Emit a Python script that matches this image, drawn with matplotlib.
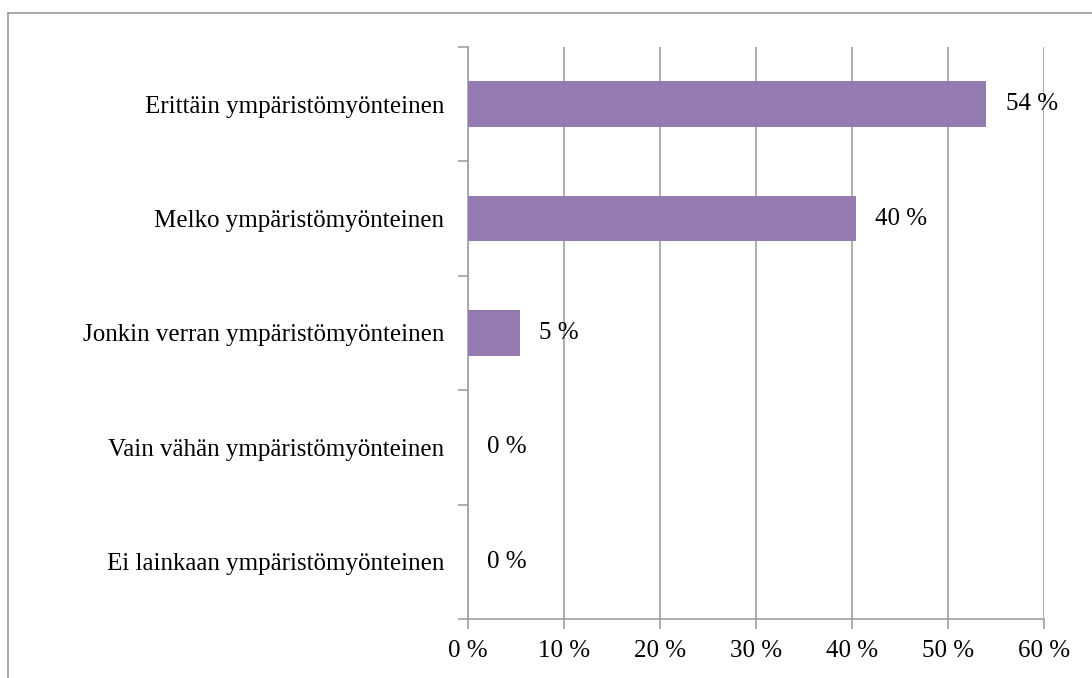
import matplotlib
matplotlib.use('Agg')
from matplotlib import pyplot as plt
from matplotlib.lines import Line2D

# data (top to bottom as shown)
categories = [
    'Erittäin ympäristömyönteinen',
    'Melko ympäristömyönteinen',
    'Jonkin verran ympäristömyönteinen',
    'Vain vähän ympäristömyönteinen',
    'Ei lainkaan ympäristömyönteinen',
]
values = [54.0, 40.4, 5.4, 0.0, 0.0]
value_labels = ['54 %', '40 %', '5 %', '0 %', '0 %']
xticks = [0, 10, 20, 30, 40, 50, 60]
xtick_labels = ['0 %', '10 %', '20 %', '30 %', '40 %', '50 %', '60 %']

W, H = 1092, 678
plt.rcParams['font.family'] = ['Liberation Serif', 'DejaVu Serif']
fs = 18

fig = plt.figure(figsize=(W / 100, H / 100), dpi=100)
ax = fig.add_axes([468 / W, 1 - 619 / H, (1044 - 468) / W, (619 - 47) / H])

grey = '#a0a0a0'
ypos = list(range(len(categories)))[::-1]
ax.barh(ypos, values, height=0.4, color='#937bb1', zorder=3)

for y, v, lab in zip(ypos, values, value_labels):
    ax.text(v + 2.0, y, lab, va='center', ha='left', fontsize=fs, color='black', zorder=4)

ax.set_xlim(0, 60)
ax.set_ylim(-0.5, len(categories) - 0.5)
ax.set_xticks(xticks)
ax.set_xticklabels(xtick_labels, fontsize=fs)
ax.set_yticks(ypos)
ax.set_yticklabels(categories, fontsize=fs)
ax.set_yticks([i - 0.5 for i in range(len(categories) + 1)], minor=True)

ax.grid(axis='x', color=grey, linewidth=1.2, zorder=0)
for s in ['top', 'right']:
    ax.spines[s].set_visible(False)
for s in ['left', 'bottom']:
    ax.spines[s].set_color(grey)
    ax.spines[s].set_linewidth(1.2)

ax.tick_params(axis='y', which='major', length=0, pad=17)
ax.tick_params(axis='y', which='minor', length=7, color=grey, width=1.2)
ax.tick_params(axis='x', length=7, color=grey, width=1.2, pad=8)

# outer chart border (partly cut off)
fig.add_artist(Line2D([8 / W, 1.0], [1 - 13 / H, 1 - 13 / H], color='#999999', linewidth=1.2))
fig.add_artist(Line2D([8 / W, 8 / W], [0, 1 - 13 / H], color='#999999', linewidth=1.2))

plt.savefig('out.png', dpi=100)
plt.close()
